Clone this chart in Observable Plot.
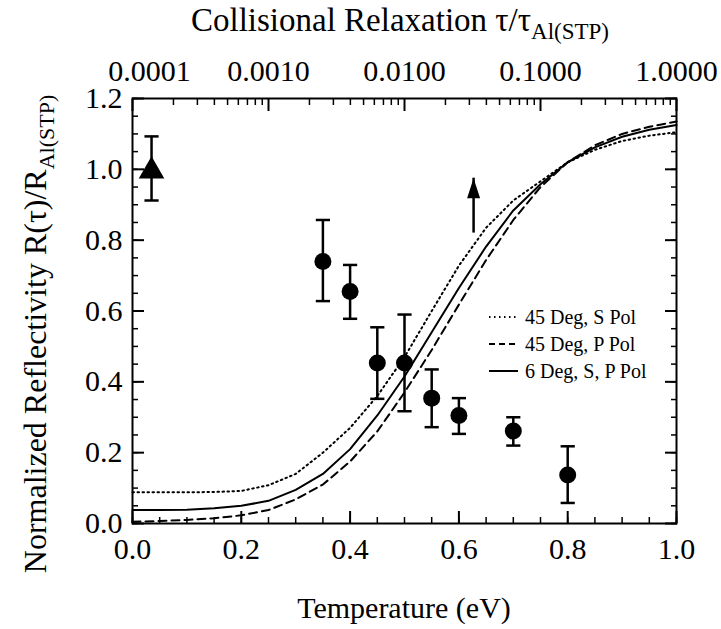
<!DOCTYPE html>
<html><head><meta charset="utf-8">
<script src="https://cdn.jsdelivr.net/npm/d3@7"></script>
<script src="https://cdn.jsdelivr.net/npm/@observablehq/plot@0.6"></script>
<style>body{margin:0;background:#fff}</style>
</head><body><div id="chart"></div>
<script>
// ---- data ----
const temperature = [0.00,0.05,0.10,0.15,0.20,0.25,0.30,0.35,0.40,0.45,0.50,0.55,0.60,0.65,0.70,0.75,0.80,0.85,0.90,0.95,1.00];
const sPol45 = [0.088,0.088,0.088,0.089,0.092,0.108,0.140,0.200,0.270,0.360,0.470,0.600,0.728,0.835,0.912,0.966,1.020,1.055,1.080,1.095,1.105];
const pPol45 = [0.005,0.007,0.010,0.015,0.023,0.038,0.068,0.110,0.175,0.260,0.370,0.490,0.618,0.744,0.857,0.950,1.020,1.068,1.100,1.120,1.135];
const sp6    = [0.038,0.038,0.039,0.043,0.050,0.064,0.095,0.140,0.210,0.305,0.415,0.540,0.665,0.782,0.884,0.958,1.020,1.062,1.092,1.112,1.125];

const measT  = [0.35,0.40,0.45,0.50,0.55,0.60,0.70,0.80];
const measR  = [0.740,0.655,0.453,0.453,0.354,0.305,0.261,0.137];
const measLo = [0.628,0.578,0.352,0.317,0.272,0.253,0.220,0.058];
const measHi = [0.857,0.730,0.554,0.590,0.435,0.354,0.300,0.218];

const stpT = [0.035], stpR = [0.995], stpLo = [0.912], stpHi = [1.093];

const arrowT = [0.627], arrowFrom = [0.82], arrowTo = [0.975];

const yMajor = [0.0,0.2,0.4,0.6,0.8,1.0,1.2];
const yLabels = ["0.0","0.2","0.4","0.6","0.8","1.0","1.2"];
const xMajor = [0.0,0.2,0.4,0.6,0.8,1.0];
const xLabels = ["0.0","0.2","0.4","0.6","0.8","1.0"];
const tauMajor = [0.0001,0.001,0.01,0.1,1];
const tauLabels = ["0.0001","0.0010","0.0100","0.1000","1.0000"];
const legendLabels = ["45 Deg, S Pol","45 Deg, P Pol","6 Deg, S, P Pol"];

// ---- derived tables ----
const curves = [
  ...temperature.map((t,i)=>({t, r:sPol45[i], s:"s45"})),
  ...temperature.map((t,i)=>({t, r:pPol45[i], s:"p45"})),
  ...temperature.map((t,i)=>({t, r:sp6[i], s:"sp6"}))
];
const meas = measT.map((t,i)=>({t, r:measR[i], lo:measLo[i], hi:measHi[i]}));
const stp = stpT.map((t,i)=>({t, r:stpR[i], lo:stpLo[i], hi:stpHi[i]}));
const arrowData = arrowT.map((t,i)=>({t, from:arrowFrom[i], to:arrowTo[i]}));

const yMinor = d3.range(0, 1.2001, 0.05);
const xMinor = d3.range(0, 1.0001, 0.05);
const tauToT = d3.scaleLog().domain([0.0001, 1]).range([0, 1]);
const tauMinor = [];
tauMajor.slice(0,4).forEach(d => { for (let k=2;k<=9;k++) tauMinor.push(d*k); });
const tauRows = tauMajor.map((d,i)=>({x: tauToT(d), label: tauLabels[i]}));

const lab = (arr, labels) => d => labels[arr.findIndex(v => Math.abs(v-d) < 1e-9)];
const capSymbol = {draw(ctx, size){ const w = Math.sqrt(size); ctx.moveTo(-w,0); ctx.lineTo(w,0); }};
const headSymbol = {draw(ctx, size){ ctx.moveTo(0,0); ctx.lineTo(6.5,20); ctx.lineTo(-6.5,20); ctx.closePath(); }};

const FONT = "'Liberation Serif','Times New Roman',serif";
const FS = 30;

const chart = Plot.plot({
  width: 721, height: 629,
  marginLeft: 132, marginRight: 45, marginTop: 98, marginBottom: 106,
  x: {domain: [0, 1]},
  y: {domain: [0, 1.2]},
  style: {fontFamily: FONT, fontSize: FS + "px", color: "black", background: "white"},
  marks: [
    Plot.axisY(yMinor, {anchor: "left", tickSize: -6, tickFormat: () => "", label: null, strokeWidth: 1.5}),
    Plot.axisY(yMinor, {anchor: "right", tickSize: -6, tickFormat: () => "", label: null, strokeWidth: 1.5}),
    Plot.axisY(yMajor, {anchor: "left", tickSize: -12, tickPadding: 22, tickFormat: lab(yMajor, yLabels), label: null, strokeWidth: 2, fontSize: FS, fontFamily: FONT}),
    Plot.axisY(yMajor, {anchor: "right", tickSize: -12, tickFormat: () => "", label: null, strokeWidth: 2}),
    Plot.axisX(xMinor, {anchor: "bottom", tickSize: -6, tickFormat: () => "", label: null, strokeWidth: 1.5}),
    Plot.axisX(xMajor, {anchor: "bottom", tickSize: -12, tickPadding: 26, tickFormat: lab(xMajor, xLabels), label: null, strokeWidth: 2, fontSize: FS, fontFamily: FONT}),
    Plot.axisX(tauMinor.map(tauToT), {anchor: "top", tickSize: -6, tickFormat: () => "", label: null, strokeWidth: 1.5}),
    Plot.axisX(tauMajor.map(tauToT), {anchor: "top", tickSize: -12, tickFormat: () => "", label: null, strokeWidth: 2}),
    Plot.text(tauRows.slice(0,1), {x: "x", text: "label", frameAnchor: "top", lineAnchor: "bottom", dy: -18, dx: 17, fontSize: FS, fontFamily: FONT}),
    Plot.text(tauRows.slice(1), {x: "x", text: "label", frameAnchor: "top", lineAnchor: "bottom", dy: -18, fontSize: FS, fontFamily: FONT}),
    Plot.frame({stroke: "black", strokeWidth: 2}),
    Plot.line(curves.filter(d=>d.s==="s45"), {x: "t", y: "r", stroke: "black", strokeWidth: 2, strokeDasharray: "1.5,3.5"}),
    Plot.line(curves.filter(d=>d.s==="p45"), {x: "t", y: "r", stroke: "black", strokeWidth: 2, strokeDasharray: "8,5"}),
    Plot.line(curves.filter(d=>d.s==="sp6"), {x: "t", y: "r", stroke: "black", strokeWidth: 2}),
    Plot.ruleX(meas, {x: "t", y1: "lo", y2: "hi", stroke: "black", strokeWidth: 2.5}),
    Plot.dot(meas, {x: "t", y: "lo", symbol: capSymbol, r: 4, stroke: "black", strokeWidth: 2.5}),
    Plot.dot(meas, {x: "t", y: "hi", symbol: capSymbol, r: 4, stroke: "black", strokeWidth: 2.5}),
    Plot.dot(meas, {x: "t", y: "r", r: 8.5, fill: "black", stroke: "none"}),
    Plot.ruleX(stp, {x: "t", y1: "lo", y2: "hi", stroke: "black", strokeWidth: 2.5}),
    Plot.dot(stp, {x: "t", y: "lo", symbol: capSymbol, r: 4, stroke: "black", strokeWidth: 2.5}),
    Plot.dot(stp, {x: "t", y: "hi", symbol: capSymbol, r: 4, stroke: "black", strokeWidth: 2.5}),
    Plot.dot(stp, {x: "t", y: "r", symbol: "triangle", r: 9.5, fill: "black", stroke: "none"}),
    Plot.ruleX(arrowData, {x: "t", y1: "from", y2: "to", stroke: "black", strokeWidth: 2.5}),
    Plot.dot(arrowData, {x: "t", y: "to", symbol: headSymbol, r: 5, fill: "black", stroke: "none"})
  ]
});

document.getElementById("chart").appendChild(chart);
const svg = d3.select(chart);

// top title with subscript
const topTitle = svg.append("text").attr("x", 400).attr("y", 31).attr("text-anchor", "middle")
  .attr("font-family", FONT).attr("font-size", 33).attr("fill", "black");
topTitle.append("tspan").text("Collisional Relaxation τ/τ");
topTitle.append("tspan").attr("dy", 8).attr("font-size", 23).text("Al(STP)");

// bottom title
svg.append("text").attr("x", 404).attr("y", 618).attr("text-anchor", "middle")
  .attr("font-family", FONT).attr("font-size", 30).attr("fill", "black").text("Temperature (eV)");

// left title with subscript
const yTitle = svg.append("text").attr("transform", "translate(46,334) rotate(-90)").attr("text-anchor", "middle")
  .attr("font-family", FONT).attr("font-size", 32).attr("fill", "black");
yTitle.append("tspan").text("Normalized Reflectivity R(τ)/R");
yTitle.append("tspan").attr("dy", 8).attr("font-size", 22).text("Al(STP)");

// legend
const dashes = ["1.5,3.5", "6,4", null];
legendLabels.forEach((txt, i) => {
  const y = 317 + i * 27;
  const ln = svg.append("line").attr("x1", 489).attr("x2", 518).attr("y1", y).attr("y2", y)
    .attr("stroke", "black").attr("stroke-width", 2);
  if (dashes[i]) ln.attr("stroke-dasharray", dashes[i]);
  svg.append("text").attr("x", 525).attr("y", y).attr("dy", "0.35em").attr("text-anchor", "start")
    .attr("font-family", FONT).attr("font-size", 20).attr("fill", "black").text(txt);
});
</script>
</body></html>
